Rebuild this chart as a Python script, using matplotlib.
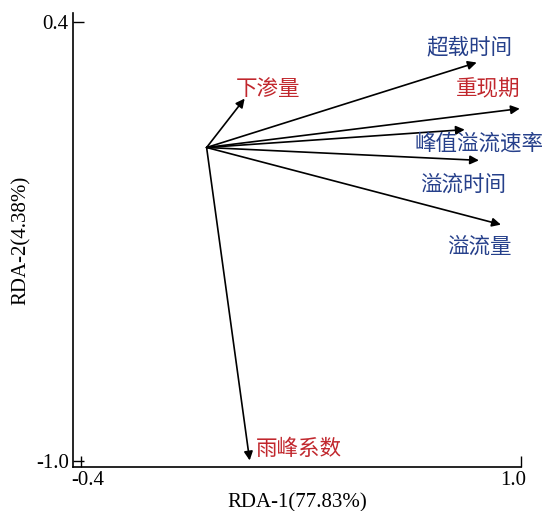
import matplotlib.pyplot as plt
import matplotlib.transforms as mtransforms

# RDA biplot: arrow tips and label positions
names = ["下渗量", "超载时间", "重现期", "峰值溢流速率", "溢流时间", "溢流量", "雨峰系数"]
tip_x = [0.121, 0.859, 0.996, 0.821, 0.866, 0.936, 0.137]
tip_y = [0.156, 0.271, 0.124, 0.057, -0.041, -0.246, -0.998]
lab_x = [0.194, 0.837, 0.897, 0.866, 0.815, 0.869, 0.293]
lab_y = [0.185, 0.319, 0.185, 0.013, -0.118, -0.316, -0.963]
groups = ["red", "blue", "red", "blue", "blue", "blue", "red"]

colors = {"red": "#c1272d", "blue": "#26408b"}

plt.rcParams['font.family'] = ['Liberation Serif', 'Noto Sans CJK SC']

fig = plt.figure(figsize=(5.43, 5.11), dpi=100)
ax = fig.add_axes([0.1344, 0.0861, 0.8251, 0.8885])

for i in range(len(names)):
    ax.annotate("", xy=(tip_x[i], tip_y[i]), xytext=(0, 0),
                arrowprops=dict(arrowstyle='-|>', color='black', lw=1.2,
                                mutation_scale=13, shrinkA=0, shrinkB=0))
    ax.text(lab_x[i], lab_y[i], names[i], color=colors[groups[i]],
            fontsize=15.5, ha='center', va='center',
            family=['Noto Sans CJK SC'])

ax.set_xlim(-0.425, 1.0)
ax.set_ylim(-1.019, 0.429)
ax.set_xticks([-0.4, 1.0])
ax.set_xticklabels(["-0.4", "1.0"])
ax.set_yticks([-1.0, 0.4])
ax.set_yticklabels(["-1.0", "0.4"])
ax.tick_params(direction='in', length=8, width=1, labelsize=15, pad=3)
ax.spines['top'].set_visible(False)
ax.spines['right'].set_visible(False)
for s in ['left', 'bottom']:
    ax.spines[s].set_linewidth(1.2)

# nudge the x tick labels like in the original
shifts = [7, -8]
for lbl, dx in zip(ax.get_xticklabels(), shifts):
    lbl.set_transform(lbl.get_transform() +
                      mtransforms.ScaledTranslation(dx / 100, 0, fig.dpi_scale_trans))

ax.set_xlabel("RDA-1(77.83%)", fontsize=15, labelpad=2)
ax.set_ylabel("RDA-2(4.38%)", fontsize=15, labelpad=4)

fig.savefig("out.png", dpi=100)
